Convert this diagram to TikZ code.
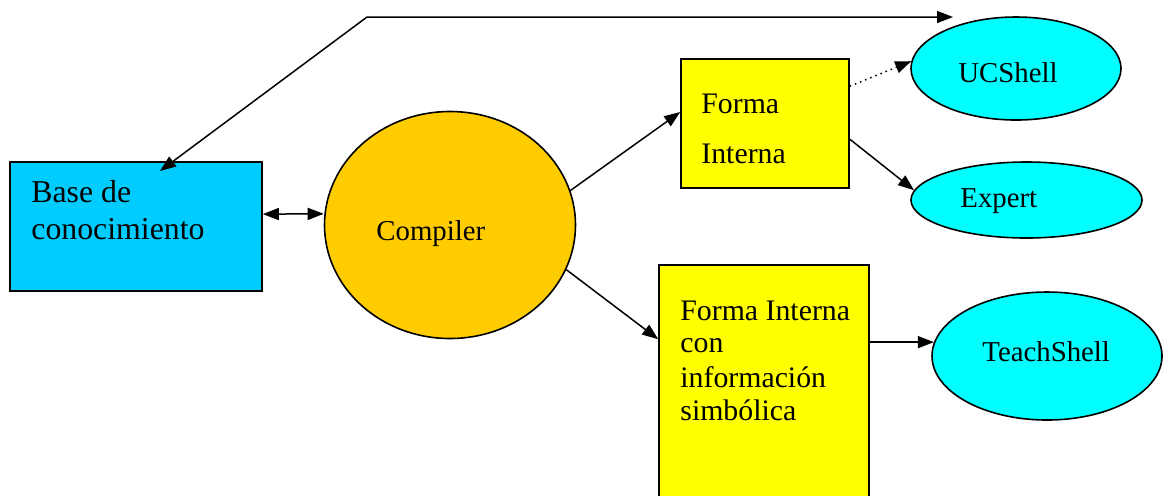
\documentclass[tikz,border=0pt]{standalone}
\usepackage{fontspec}
\setmainfont{Liberation Serif}
\usetikzlibrary{shapes.geometric,arrows.meta,calc}

\definecolor{kbblue}{HTML}{00CCFF}
\definecolor{compgold}{HTML}{FFCC00}
\definecolor{formyellow}{HTML}{FFFF00}
\definecolor{shellcyan}{HTML}{00FFFF}

\tikzset{
  box/.style={draw=black, line width=0.8pt, inner sep=0pt, rectangle},
  shell/.style={draw=black, line width=0.8pt, inner sep=0pt, ellipse, fill=shellcyan},
  txt/.style={anchor=base west, inner sep=0pt, font=\fontsize{14.4}{17}\selectfont},
  kbtxt/.style={txt, font=\fontsize{15.9}{19}\selectfont},
  formtxt/.style={txt, font=\fontsize{14.9}{18}\selectfont},
  tip/.style={Triangle[length=8pt,width=6pt]},
  conn/.style={line width=0.75pt, -{Triangle[length=8pt,width=6pt]}},
  dconn/.style={line width=0.75pt, {Triangle[length=8pt,width=6pt]}-{Triangle[length=8pt,width=6pt]}},
}

\begin{document}
\begin{tikzpicture}[x=0.5pt, y=-0.5pt]
  \useasboundingbox (0,0) rectangle (1170,495);

  % knowledge base
  \node[box, fill=kbblue, minimum width=126pt, minimum height=64.5pt] (kb) at (136,226.5) {};
  \node[kbtxt] (kbt1) at (31,202) {Base de};
  \node[kbtxt] (kbt2) at (31,239) {conocimiento};

  % compiler
  \node[draw=black, line width=0.8pt, ellipse, fill=compgold, inner sep=0pt,
        minimum width=125.5pt, minimum height=113.5pt] (comp) at (450,225) {};
  \node[txt] (compt) at (376,240) {Compiler};

  % internal form
  \node[box, fill=formyellow, minimum width=84pt, minimum height=64.5pt] (forma) at (765,123.5) {};
  \node[formtxt] (format1) at (701,113) {Forma};
  \node[formtxt] (format2) at (701,163) {Interna};

  % internal form with symbolic information
  \node[box, fill=formyellow, minimum width=105pt, minimum height=122.5pt] (low) at (764,387.5) {};
  \node[formtxt] (lowt1) at (680,320) {Forma Interna};
  \node[formtxt] (lowt2) at (680,352) {con};
  \node[formtxt] (lowt3) at (680,387) {información};
  \node[formtxt] (lowt4) at (680,420) {simbólica};

  % shells
  \node[shell, minimum width=105pt, minimum height=51.5pt] (ucs) at (1016,68.5) {};
  \node[txt] (ucst) at (958,82) {UCShell};
  \node[shell, minimum width=115.5pt, minimum height=38pt] (exp) at (1026.5,200) {};
  \node[txt] (expt) at (960,207) {Expert};
  \node[shell, minimum width=115pt, minimum height=64pt] (teach) at (1047,356) {};
  \node[txt] (teacht) at (982,361) {TeachShell};

  % feedback line over the top
  \coordinate (topend) at (953,17);
  \coordinate (bend) at (367,17);
  \coordinate (kbin) at (160,171);
  \draw[dconn] (kbin) -- (bend) -- (topend);

  % connectors
  \draw[dconn] ([yshift=6.2pt]kb.east) -- ([yshift=5.6pt]comp.west);
  \draw[conn] (comp.16) -- ([yshift=5.75pt]forma.west);
  \draw[conn] (comp.-21) -- ([yshift=-37.5pt]low.north west);
  \draw[conn, dotted] ([yshift=-14pt]forma.north east) -- (ucs.176);
  \draw[conn] ([yshift=-40.5pt]forma.north east) -- (exp.175);
  \draw[conn] (low.east |- teach.173) -- (teach.173);
\end{tikzpicture}
\end{document}
